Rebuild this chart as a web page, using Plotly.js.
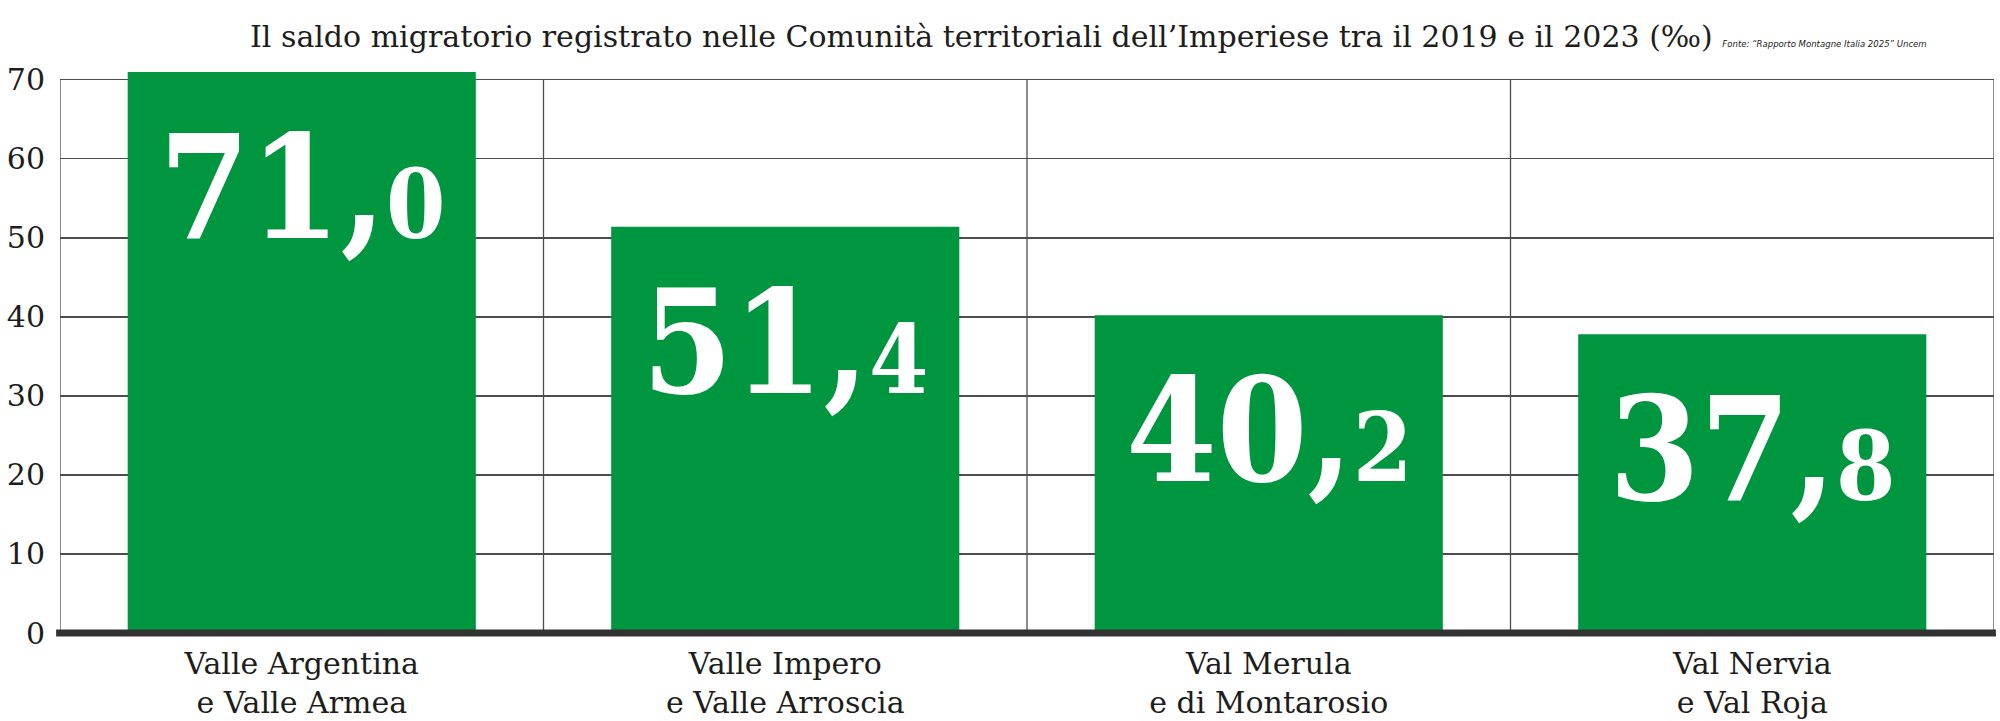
<!DOCTYPE html>
<html>
<head>
<meta charset="utf-8">
<script src="https://cdn.plot.ly/plotly-3.0.1.min.js"></script>
<style>html,body{margin:0;padding:0;background:#fff;}#chart{width:2000px;height:721px;}</style>
</head>
<body>
<div id="chart"></div>
<script>
// ---- data ----
const categories = [
  'Valle Argentina<br>e Valle Armea',
  'Valle Impero<br>e Valle Arroscia',
  'Val Merula<br>e di Montarosio',
  'Val Nervia<br>e Val Roja'
];
const values = [71.0, 51.4, 40.2, 37.8];
const yTickVals = [0, 10, 20, 30, 40, 50, 60, 70];
const yTickText = ['0', '10', '20', '30', '40', '50', '60', '70'];
const titleText = 'Il saldo migratorio registrato nelle Comunità territoriali dell’Imperiese tra il 2019 e il 2023 (‰)';
const sourceText = 'Fonte: “Rapporto Montagne Italia 2025” Uncem';

// ---- styles ----
const GREEN = '#009640';
const GRID = '#4d4d4d';
const SERIF = "'DejaVu Serif', 'Liberation Serif', serif";
const LABEL_FONT = "'DejaVu Serif Condensed', 'DejaVu Serif', serif";

function labelHtml(v) {
  const parts = v.toFixed(1).split('.');
  return parts[0] + ',<span style="font-size:95px">' + parts[1] + '</span>';
}

const trace = {
  type: 'bar',
  x: categories,
  y: values,
  marker: {color: GREEN, line: {width: 0}},
  hoverinfo: 'skip'
};

const shapes = [];
// vertical frame / gridlines at category boundaries, from 0 to top tick
for (let i = 0; i <= categories.length; i++) {
  shapes.push({
    type: 'line', xref: 'x', yref: 'y',
    x0: i - 0.5, x1: i - 0.5, y0: 0, y1: yTickVals[yTickVals.length - 1],
    line: {color: GRID, width: 1.3}, layer: 'below'
  });
}
// thick base line
shapes.push({
  type: 'line', xref: 'paper', yref: 'paper',
  x0: -0.002, x1: 1.001, y0: 0, y1: 0,
  line: {color: '#333333', width: 7}, layer: 'above'
});

const annotations = values.map((v, i) => ({
  x: categories[i], y: v, xref: 'x', yref: 'y',
  text: labelHtml(v),
  showarrow: false, xanchor: 'center', yanchor: 'top', yshift: -28,
  font: {family: LABEL_FONT, size: 145, color: '#ffffff', weight: 'bold'}
}));

const layout = {
  width: 2000, height: 721,
  margin: {l: 60, r: 6, t: 63.5, b: 88.4, pad: 0},
  paper_bgcolor: '#ffffff', plot_bgcolor: '#ffffff',
  showlegend: false,
  bargap: 0.28,
  title: {
    text: titleText + ' <span style="font-family:\'DejaVu Sans Condensed\', sans-serif;font-size:9.5px;font-style:italic">' + sourceText + '</span>',
    xref: 'container', yref: 'container',
    x: 0.125, xanchor: 'left', y: 0.95, yanchor: 'middle',
    font: {family: SERIF, size: 30, color: '#1d1d1b'}
  },
  xaxis: {
    type: 'category', range: [-0.5, categories.length - 0.5],
    showgrid: false, showline: false, zeroline: false, ticks: '',
    tickfont: {family: SERIF, size: 30, color: '#1d1d1b'},
    ticklabelstandoff: 10, fixedrange: true
  },
  yaxis: {
    range: [0, 72], tickmode: 'array', tickvals: yTickVals, ticktext: yTickText,
    showgrid: true, gridcolor: GRID, gridwidth: 1.3,
    zeroline: false, showline: false, ticks: '',
    tickfont: {family: SERIF, size: 30, color: '#1d1d1b'},
    ticklabelstandoff: 14, fixedrange: true
  },
  shapes: shapes,
  annotations: annotations
};

Plotly.newPlot('chart', [trace], layout, {displayModeBar: false, staticPlot: true});
</script>
</body>
</html>
